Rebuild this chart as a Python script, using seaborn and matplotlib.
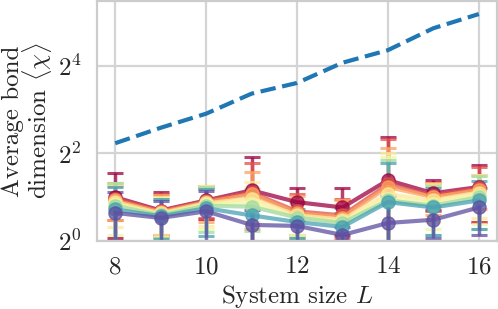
import numpy as np
import pandas as pd
import matplotlib
matplotlib.use("Agg")
from matplotlib import pyplot as plt
import seaborn as sns

# system sizes
sizes = [8, 9, 10, 11, 12, 13, 14, 15, 16]

# upper (dashed) curve
chi_max = [4.7, 6.0, 7.5, 10.3, 12.2, 16.8, 20.5, 29.0, 36.3]

# averaged bond dimension, one row per curve (red -> purple)
chi_mean = [
	[2.00, 1.62, 1.90, 2.23, 1.85, 1.70, 2.62, 2.13, 2.35],
	[1.95, 1.60, 1.88, 2.15, 1.60, 1.50, 2.45, 2.05, 2.30],
	[1.90, 1.58, 1.85, 2.10, 1.55, 1.45, 2.35, 2.00, 2.25],
	[1.85, 1.55, 1.82, 1.95, 1.50, 1.40, 2.10, 1.90, 2.15],
	[1.80, 1.52, 1.80, 1.80, 1.45, 1.35, 1.95, 1.80, 2.05],
	[1.75, 1.50, 1.75, 1.72, 1.45, 1.33, 1.90, 1.75, 2.00],
	[1.65, 1.48, 1.68, 1.50, 1.35, 1.25, 1.85, 1.70, 1.90],
	[1.56, 1.44, 1.60, 1.29, 1.27, 1.10, 1.33, 1.40, 1.70],
]
chi_err = [
	[0.95, 0.54, 0.48, 1.57, 0.45, 0.60, 2.60, 0.50, 1.00],
	[0.55, 0.50, 0.45, 1.30, 0.50, 0.45, 2.55, 0.45, 0.95],
	[0.50, 0.50, 0.50, 0.90, 0.50, 0.45, 2.00, 0.50, 0.60],
	[0.60, 0.45, 0.55, 0.60, 0.40, 0.40, 1.90, 0.55, 0.70],
	[0.70, 0.45, 0.60, 0.50, 0.35, 0.35, 1.80, 0.60, 0.75],
	[0.75, 0.45, 0.60, 0.55, 0.40, 0.35, 1.70, 0.65, 0.80],
	[0.70, 0.45, 0.60, 0.50, 0.30, 0.30, 1.60, 0.60, 0.70],
	[0.60, 0.45, 0.60, 0.35, 0.30, 0.15, 0.70, 0.35, 0.60],
]

ytick_vals = [1, 4, 16]
ytick_labels = [r"$2^0$", r"$2^2$", r"$2^4$"]

sns.set_theme(style="whitegrid")
plt.rcParams["font.family"] = ["cmr10"]
plt.rcParams["mathtext.fontset"] = "cm"
plt.rcParams["axes.formatter.use_mathtext"] = True
plt.rcParams["axes.unicode_minus"] = False

fig = plt.figure(figsize=(4.98, 3.09), dpi=100)
ax = fig.add_axes([97 / 498, 68 / 309, 400 / 498, 240 / 309])

colors = plt.get_cmap("Spectral")(np.linspace(0, 1, len(chi_mean)))
for row, err, c in zip(chi_mean, chi_err, colors):
	ax.errorbar(sizes, row, yerr=err, color=c, alpha=0.75, lw=3, marker="o",
				markersize=9.5, capsize=6, capthick=2.2, elinewidth=2.5)

df = pd.DataFrame({"L": sizes, "chi": chi_max})
sns.lineplot(data=df, x="L", y="chi", ax=ax, color="#1f77b4", lw=3, linestyle="--")

ax.set_yscale("log", base=2)
ax.set_ylim(1, 2 ** 5.48)
ax.set_xlim(7.6, 16.4)
ax.set_xticks([8, 10, 12, 14, 16])
ax.set_yticks(ytick_vals, labels=ytick_labels)
ax.minorticks_off()
ax.tick_params(labelsize=18, pad=5)
ax.set_xlabel(r"System size $L$", fontsize=18, labelpad=3)
ax.set_ylabel("Average bond\n" + r"dimension $\langle\chi\rangle$", fontsize=18,
			  linespacing=0.85, labelpad=3)
ax.grid(True, color="0.83", lw=1.6)
for s in ax.spines.values():
	s.set_color("0.8")
	s.set_linewidth(1.6)

fig.savefig("out.png", dpi=100)
